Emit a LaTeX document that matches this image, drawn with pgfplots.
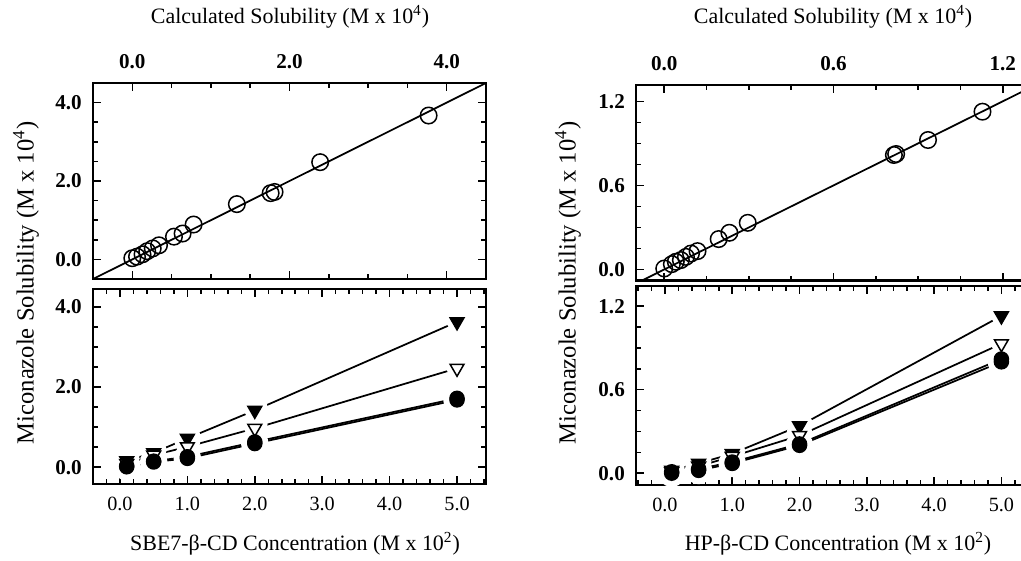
\documentclass[border=0pt]{standalone}
\usepackage{fontspec}
\setmainfont{Liberation Serif}
\usepackage{pgfplots}
\usepackage{pgfplotstable}
\pgfplotsset{compat=1.18}

% x  a = filled down-triangle, b = open down-triangle, c/d = filled circles
\pgfplotstableread{
x    a     b     c     d
0.1  0.16  0.09  0.01  0.03
0.5  0.36  0.30  0.13  0.15
1.0  0.72  0.51  0.22  0.26
2.0  1.42  0.97  0.59  0.63
5.0  3.63  2.47  1.68  1.72
}\sbedata
\pgfplotstableread{
x    a     b     c     d
0.1  0.02  0.01  0.00  0.01
0.5  0.07  0.05  0.02  0.03
1.0  0.14  0.12  0.07  0.08
2.0  0.34  0.27  0.20  0.21
5.0  1.13  0.93  0.80  0.82
}\hpdata

\newcommand{\ticklab}{\fontsize{12}{14}\selectfont}
\newcommand{\labfont}{\fontsize{12.5}{15}\selectfont}
\newcommand{\ylabfont}{\fontsize{14}{16}\selectfont}

\pgfplotsset{
  panel/.style={
    scale only axis, anchor=south west,
    axis line style={line width=0.5mm},
    tick style={line width=0.3mm, black},
    major tick length=1.6mm, minor tick length=1mm,
    tick align=inside,
    every tick label/.append style={font=\ticklab\bfseries},
    yticklabel style={xshift=-1.0mm},
  },
  toppanel/.style={panel, xticklabel pos=upper, xticklabel style={yshift=1.6mm}},
  botpanel/.style={panel,
    xticklabel style={font=\fontsize{11.5}{13}\selectfont\mdseries, yshift=-1.3mm}},
  fitline/.style={black, line width=0.35mm, no marks},
  halo/.style={only marks, mark size=1.55mm,
    mark options={draw=white, fill=white, line width=2.4mm, line join=round, rotate=#1}},
  halo/.default=0,
  ftri/.style={only marks, mark=triangle*, mark size=1.6mm,
    mark options={draw=black, fill=black, rotate=180, line width=0.3mm}},
  otri/.style={only marks, mark=triangle*, mark size=1.6mm,
    mark options={draw=black, fill=white, rotate=180, line width=0.3mm}},
  fcirc/.style={only marks, mark=*, mark size=1.4mm,
    mark options={draw=black, fill=black, line width=0.3mm}},
  ocirc/.style={only marks, mark=o, mark size=1.65mm,
    mark options={draw=black, line width=0.3mm}},
}

\begin{document}
\begin{tikzpicture}

% ---------------- left column: SBE7-beta-CD ----------------
\begin{axis}[toppanel, at={(18.6mm,56.2mm)}, width=78.6mm, height=39.2mm,
  xmin=-0.5, xmax=4.5, ymin=-0.5, ymax=4.5,
  xtick={0,2,4}, xticklabels={0.0,2.0,4.0}, minor xtick={-0.5,0,...,4.5},
  ytick={0,2,4}, yticklabels={0.0,2.0,4.0}, minor ytick={-0.5,0,...,4.5}]
\addplot[fitline] coordinates {(-0.5,-0.5) (4.5,4.5)};
\addplot[ocirc] coordinates {
  (0.00,0.03) (0.06,0.07) (0.13,0.13) (0.19,0.21) (0.26,0.28) (0.34,0.36)
  (0.53,0.58) (0.64,0.66) (0.78,0.89) (1.33,1.41) (1.76,1.69) (1.81,1.72)
  (2.39,2.48) (3.77,3.67)};
\end{axis}

\begin{axis}[botpanel, at={(18.6mm,15.2mm)}, width=78.6mm, height=39mm,
  xmin=-0.4, xmax=5.43, ymin=-0.42, ymax=4.45,
  xtick={0,1,2,3,4,5}, xticklabels={0.0,1.0,2.0,3.0,4.0,5.0},
  minor xtick={-0.4,-0.2,...,5.4},
  ytick={0,2,4}, yticklabels={0.0,2.0,4.0}, minor ytick={-0.5,0,...,4.5}]
\addplot[fitline] table[y=a] {\sbedata};
\addplot[fitline] table[y=b] {\sbedata};
\addplot[fitline] table[y=c] {\sbedata};
\addplot[fitline] table[y=d] {\sbedata};
\addplot[halo=180, mark=triangle*] table[y=a] {\sbedata};
\addplot[halo=180, mark=triangle*] table[y=b] {\sbedata};
\addplot[halo, mark=*] table[y=c] {\sbedata};
\addplot[ftri] table[y=a] {\sbedata};
\addplot[otri] table[y=b] {\sbedata};
\addplot[fcirc] table[y=d] {\sbedata};
\addplot[fcirc] table[y=c] {\sbedata};
\end{axis}

% ---------------- right column: HP-beta-CD ----------------
\begin{axis}[toppanel, at={(127.2mm,55.86mm)}, width=79mm, height=39.1mm,
  xmin=-0.1, xmax=1.3, ymin=-0.08, ymax=1.315,
  xtick={0,0.6,1.2}, xticklabels={0.0,0.6,1.2},
  minor xtick={0,0.15,0.3,0.45,0.6,0.75,0.9,1.05,1.2},
  ytick={0,0.6,1.2}, yticklabels={0.0,0.6,1.2},
  minor ytick={0,0.15,0.3,0.45,0.6,0.75,0.9,1.05,1.2}]
\addplot[fitline] coordinates {(-0.1,-0.1) (1.3,1.3)};
\addplot[ocirc] coordinates {
  (0.000,0.007) (0.027,0.038) (0.041,0.055) (0.059,0.067) (0.077,0.090)
  (0.095,0.114) (0.118,0.131) (0.193,0.217) (0.231,0.262) (0.296,0.333)
  (0.814,0.817) (0.822,0.824) (0.935,0.924) (1.128,1.126)};
\end{axis}

\begin{axis}[botpanel, at={(127.2mm,15mm)}, width=79mm, height=39.8mm,
  xmin=-0.43, xmax=5.44, ymin=-0.085, ymax=1.345,
  xtick={0,1,2,3,4,5}, xticklabels={0.0,1.0,2.0,3.0,4.0,5.0},
  minor xtick={-0.4,-0.2,...,5.4},
  ytick={0,0.6,1.2}, yticklabels={0.0,0.6,1.2},
  minor ytick={0,0.15,0.3,0.45,0.6,0.75,0.9,1.05,1.2}]
\addplot[fitline] table[y=a] {\hpdata};
\addplot[fitline] table[y=b] {\hpdata};
\addplot[fitline] table[y=c] {\hpdata};
\addplot[fitline] table[y=d] {\hpdata};
\addplot[halo=180, mark=triangle*] table[y=a] {\hpdata};
\addplot[halo=180, mark=triangle*] table[y=b] {\hpdata};
\addplot[halo, mark=*] table[y=c] {\hpdata};
\addplot[ftri] table[y=a] {\hpdata};
\addplot[otri] table[y=b] {\hpdata};
\addplot[fcirc] table[y=d] {\hpdata};
\addplot[fcirc] table[y=c] {\hpdata};
\end{axis}

% ---------------- shared labels ----------------
\node[font=\labfont] at (58mm,108.6mm) {Calculated Solubility (M x 10\textsuperscript{4})};
\node[font=\labfont] at (166.6mm,108.6mm) {Calculated Solubility (M x 10\textsuperscript{4})};
\node[font=\ylabfont, rotate=90] at (5.2mm,55.4mm) {Miconazole Solubility (M x 10\textsuperscript{4})};
\node[font=\ylabfont, rotate=90] at (113.6mm,55.4mm) {Miconazole Solubility (M x 10\textsuperscript{4})};
\node[font=\labfont] at (59mm,3.2mm) {SBE7-β-CD Concentration (M x 10\textsuperscript{2})};
\node[font=\labfont] at (167.6mm,3.2mm) {HP-β-CD Concentration (M x 10\textsuperscript{2})};

\pgfresetboundingbox
\useasboundingbox (0,0) rectangle (204.2mm,112mm);
\end{tikzpicture}
\end{document}
